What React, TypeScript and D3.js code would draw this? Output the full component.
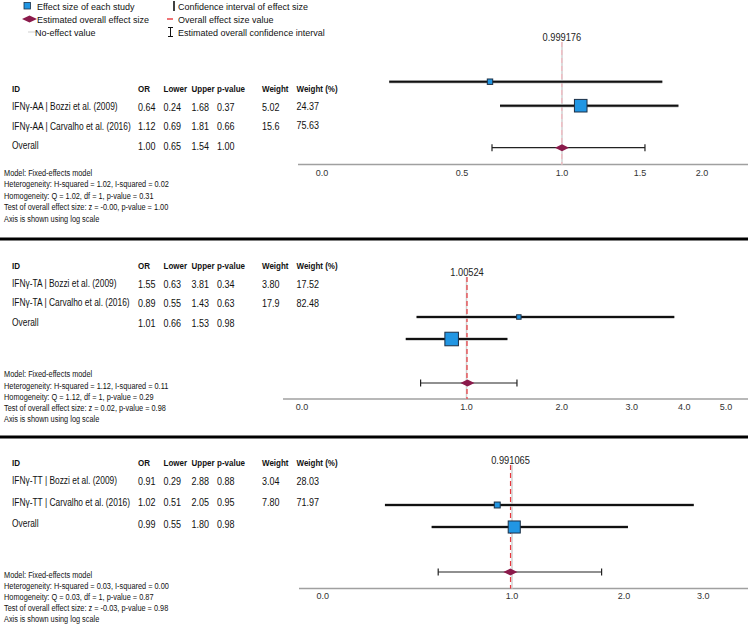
import React from "react";
import * as d3 from "d3";

// ---------- DATA ----------
const genotypes = ["IFNγ-AA", "IFNγ-TA", "IFNγ-TT"];
const studies = ["Bozzi et al. (2009)", "Carvalho et al. (2016)"];

const orAA = [0.64, 1.12, 1.0];
const lowerAA = [0.24, 0.69, 0.65];
const upperAA = [1.68, 1.81, 1.54];
const pAA = [0.37, 0.66, 1.0];
const weightAA = [5.02, 15.6];
const weightPctAA = [24.37, 75.63];

const orTA = [1.55, 0.89, 1.01];
const lowerTA = [0.63, 0.55, 0.66];
const upperTA = [3.81, 1.43, 1.53];
const pTA = [0.34, 0.63, 0.98];
const weightTA = [3.8, 17.9];
const weightPctTA = [17.52, 82.48];

const orTT = [0.91, 1.02, 0.99];
const lowerTT = [0.29, 0.51, 0.55];
const upperTT = [2.88, 2.05, 1.8];
const pTT = [0.88, 0.95, 0.98];
const weightTT = [3.04, 7.8];
const weightPctTT = [28.03, 71.97];

const pooledLabels = ["0.999176", "1.00524", "0.991065"];
const pooledValues = [0.999176, 1.00524, 0.991065];

const hSquared = [1.02, 1.12, 0.03];
const iSquared = [0.02, 0.11, 0.0];
const qStat = [1.02, 1.12, 0.03];
const qP = [0.31, 0.29, 0.87];
const zStat = ["-0.00", "0.02", "-0.03"];
const zP = [1.0, 0.98, 0.98];

const ticksAA = [0, 0.5, 1, 1.5, 2];
const ticksTA = [0, 1, 2, 3, 4, 5];
const ticksTT = [0, 1, 2, 3];

const headers = ["ID", "OR", "Lower", "Upper", "p-value", "Weight", "Weight (%)"];

// ---------- LAYOUT ----------
const W = 748;
const H = 625;
const FONT = "'Liberation Sans', Arial, sans-serif";
const f2 = d3.format(".2f");
const f3r = d3.format(".3r");

const panelData = [
  { or: orAA, lo: lowerAA, up: upperAA, p: pAA, w: weightAA, wp: weightPctAA, ticks: ticksAA },
  { or: orTA, lo: lowerTA, up: upperTA, p: pTA, w: weightTA, wp: weightPctTA, ticks: ticksTA },
  { or: orTT, lo: lowerTT, up: upperTT, p: pTT, w: weightTT, wp: weightPctTT, ticks: ticksTT },
];

const layouts = [
  {
    headerY: 89, rowY: [107, 126.5, 146], notesY: 172.5, noteStep: 11.5,
    plotY: [81.7, 105.7, 147.7], axisY: 164.5, axisX0: 298, tickY: 172.5,
    labelY: 37.5, refTop: 42,
    knots: [0, 0.5, 1, 1.5, 2], knotPx: [322, 462, 562, 640, 702],
    refColor: "#f4b6be",
  },
  {
    headerY: 266, rowY: [284, 303, 323], notesY: 374, noteStep: 11.2,
    plotY: [317, 339, 383], axisY: 399, axisX0: 283, tickY: 407,
    labelY: 272, refTop: 277,
    knots: [0, 0.5, 1, 2, 3, 4, 5], knotPx: [302, 399, 466.5, 561.7, 631.7, 684.3, 726],
    refColor: "#e8383d",
  },
  {
    headerY: 463, rowY: [481, 502.5, 524], notesY: 575, noteStep: 11,
    plotY: [505, 527, 572], axisY: 588.5, axisX0: 299, tickY: 596,
    labelY: 460, refTop: 465,
    knots: [0, 0.5, 1, 2, 3], knotPx: [322.7, 430, 512, 624, 703.3],
    refColor: "#e8383d",
  },
];

const colX = [12, 138, 163.5, 191.5, 217, 262, 296.5];

const sizeScale = d3.scaleLinear().domain([0, 100]).range([2, 16]);

function T({
  x, y, size, sx = 1, bold = false, anchor = "start", fill = "#111", children,
}: {
  x: number; y: number; size: number; sx?: number; bold?: boolean; anchor?: string; fill?: string; children: any;
}) {
  return (
    <text
      transform={`translate(${x},${y}) scale(${sx},1)`}
      fontSize={size}
      fontWeight={bold ? "bold" : "normal"}
      textAnchor={anchor}
      fill={fill}
      dominantBaseline="central"
    >
      {children}
    </text>
  );
}

function Panel({ idx }: { idx: number }) {
  const d = panelData[idx];
  const L = layouts[idx];
  const x = d3.scaleLinear().domain(L.knots).range(L.knotPx);
  const g = genotypes[idx];
  const notes = [
    "Model: Fixed-effects model",
    `Heterogeneity: H-squared = ${f2(hSquared[idx])}, I-squared = ${f2(iSquared[idx])}`,
    `Homogeneity: Q = ${f2(qStat[idx])}, df = 1, p-value = ${f2(qP[idx])}`,
    `Test of overall effect size: z = ${zStat[idx]}, p-value = ${f2(zP[idx])}`,
    "Axis is shown using log scale",
  ];
  const labels = [`${g} | ${studies[0]}`, `${g} | ${studies[1]}`, "Overall"];
  const xRef = x(1);
  const xPool = x(pooledValues[idx]);
  const RS = 0.84;
  return (
    <g>
      {headers.map((h, i) => (
        <T key={h} x={colX[i]} y={L.headerY} size={9.4} bold sx={0.85}>{h}</T>
      ))}
      {labels.map((lab, r) => (
        <g key={lab}>
          <T x={colX[0]} y={L.rowY[r]} size={10} sx={RS}>{lab}</T>
          <T x={colX[1]} y={L.rowY[r]} size={10} sx={0.9}>{f2(d.or[r])}</T>
          <T x={colX[2]} y={L.rowY[r]} size={10} sx={0.9}>{f2(d.lo[r])}</T>
          <T x={colX[3]} y={L.rowY[r]} size={10} sx={0.9}>{f2(d.up[r])}</T>
          <T x={colX[4]} y={L.rowY[r]} size={10} sx={0.9}>{f2(d.p[r])}</T>
          {r < 2 && <T x={colX[5]} y={L.rowY[r]} size={10} sx={0.9}>{f3r(d.w[r])}</T>}
          {r < 2 && (
            <T x={colX[6]} y={L.rowY[r] - (idx === 0 ? 1 : 0)} size={10} sx={0.9}>{f2(d.wp[r])}</T>
          )}
        </g>
      ))}
      {notes.map((n, i) => (
        <T key={i} x={4} y={L.notesY + i * L.noteStep} size={9.2} sx={0.8}>{n}</T>
      ))}
      <line x1={L.axisX0} x2={W} y1={L.axisY} y2={L.axisY} stroke="#a0a0a0" strokeWidth={1.3} />
      {d.ticks.map((t) => (
        <T key={t} x={x(t)} y={L.tickY} size={9.5} sx={0.95} anchor="middle" fill="#333">
          {d3.format(".1f")(t)}
        </T>
      ))}
      <line x1={xRef} x2={xRef} y1={L.refTop} y2={L.axisY} stroke="#d0d0d0" strokeWidth={1.5} />
      <line x1={xPool} x2={xPool} y1={L.refTop} y2={L.axisY} stroke={L.refColor} strokeWidth={1.2} strokeDasharray="5,3" />
      <T x={xPool} y={L.labelY} size={10} sx={0.93} anchor="middle" fill="#222">{pooledLabels[idx]}</T>
      {[0, 1].map((r) => {
        const s = sizeScale(d.wp[r]);
        return (
          <g key={r}>
            <line x1={x(d.lo[r])} x2={x(d.up[r])} y1={L.plotY[r]} y2={L.plotY[r]} stroke="#c8c8c8" strokeWidth={3.4} />
            <line x1={x(d.lo[r])} x2={x(d.up[r])} y1={L.plotY[r]} y2={L.plotY[r]} stroke="#111" strokeWidth={2} />
            <rect x={x(d.or[r]) - s / 2} y={L.plotY[r] - s / 2} width={s} height={s} fill="#2196e3" stroke="#1c2f45" strokeWidth={1} />
          </g>
        );
      })}
      {(() => {
        const y = L.plotY[2];
        const x0 = x(d.lo[2]);
        const x1 = x(d.up[2]);
        const cx = x(d.or[2]);
        return (
          <g>
            <line x1={x0} x2={x1} y1={y} y2={y} stroke="#222" strokeWidth={1.2} />
            <line x1={x0} x2={x0} y1={y - 3.5} y2={y + 3.5} stroke="#222" strokeWidth={1.2} />
            <line x1={x1} x2={x1} y1={y - 3.5} y2={y + 3.5} stroke="#222" strokeWidth={1.2} />
            <path d={`M${cx - 7},${y} L${cx},${y - 3.5} L${cx + 7},${y} L${cx},${y + 3.5} Z`} fill="#8b1a4b" />
          </g>
        );
      })()}
    </g>
  );
}

function Legend() {
  const LS = 0.92;
  return (
    <g>
      <rect x={24} y={2.5} width={6.5} height={6.5} fill="#2196e3" stroke="#1c2f45" strokeWidth={0.8} />
      <T x={37} y={6} size={9.8} sx={LS}>Effect size of each study</T>
      <path d="M22,19 L29.5,15.5 L37,19 L29.5,22.5 Z" fill="#8b1a4b" />
      <T x={37} y={19} size={9.8} sx={LS}>Estimated overall effect size</T>
      <line x1={28} x2={36} y1={32} y2={32} stroke="#cfcfcf" strokeWidth={1} />
      <T x={35} y={32} size={9.8} sx={LS}>No-effect value</T>

      <line x1={174} x2={174} y1={1} y2={11} stroke="#111" strokeWidth={1.6} />
      <T x={178} y={6} size={9.8} sx={LS}>Confidence interval of effect size</T>
      <line x1={167} x2={173} y1={19} y2={19} stroke="#e8383d" strokeWidth={1.4} />
      <T x={178} y={19} size={9.8} sx={LS}>Overall effect size value</T>
      <line x1={170.5} x2={170.5} y1={27.5} y2={36.5} stroke="#111" strokeWidth={1} />
      <line x1={168} x2={173} y1={27.5} y2={27.5} stroke="#111" strokeWidth={1} />
      <line x1={168} x2={173} y1={36.5} y2={36.5} stroke="#111" strokeWidth={1} />
      <T x={178} y={32} size={9.8} sx={LS}>Estimated overall confidence interval</T>
    </g>
  );
}

export default function App() {
  return (
    <svg
      width={W}
      height={H}
      viewBox={`0 0 ${W} ${H}`}
      style={{ position: "absolute", left: 0, top: 0, background: "#fff", fontFamily: FONT }}
    >
      <rect x={0} y={0} width={W} height={H} fill="#fff" />
      <Legend />
      {[0, 1, 2].map((i) => (
        <Panel key={i} idx={i} />
      ))}
      <line x1={0} x2={W} y1={239} y2={239} stroke="#000" strokeWidth={3} />
      <line x1={0} x2={W} y1={437} y2={437} stroke="#000" strokeWidth={3} />
    </svg>
  );
}
